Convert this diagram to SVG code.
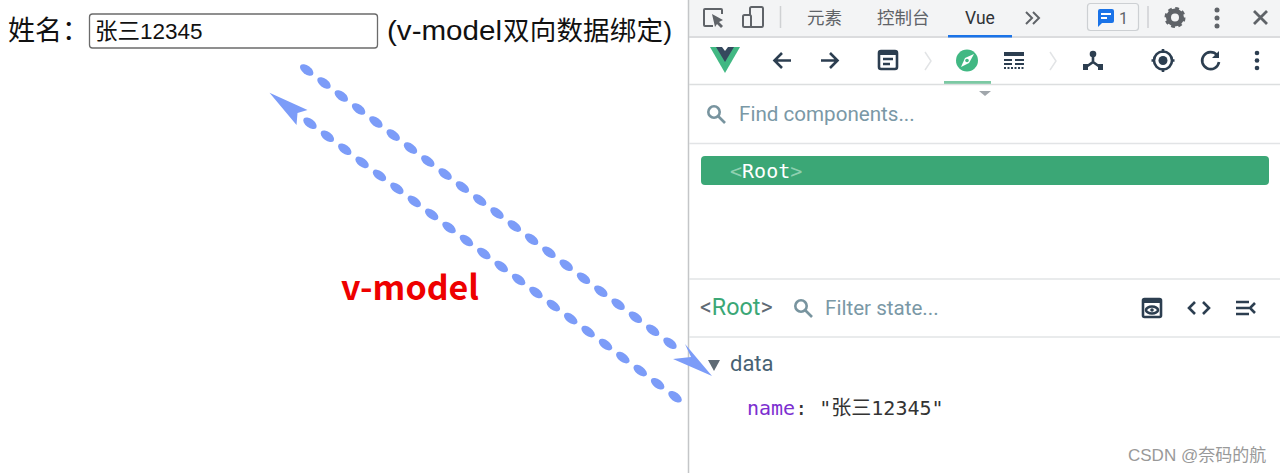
<svg xmlns="http://www.w3.org/2000/svg" xmlns:xlink="http://www.w3.org/1999/xlink" width="1280" height="473" viewBox="0 0 1280 473">
<style>
text{font-family:"Roboto","Noto Sans CJK SC",sans-serif}
.cjk{font-family:"Liberation Sans","Noto Sans CJK SC",sans-serif}
.sep{stroke:#e2e4e6;stroke-width:1.5;fill:none}
.ic{stroke:#2c3e50;fill:none;stroke-width:2.6}
.f{fill:#2c3e50}
.tab{font-size:17.5px;fill:#5f6368}
.ph{font-size:20.6px;fill:#7a98a6}
.srch{stroke:#78949f;fill:none;stroke-width:2.6}
.ah,.dash{fill:#7c9cf8}
.mono{font-family:"DejaVu Sans Mono","Noto Sans CJK SC",monospace}
</style>
<defs><ellipse id="d" class="dash" rx="7.800" ry="4.300" transform="rotate(37)"/></defs>
<rect width="1280" height="473" fill="#fff"/>
<g id="form">
<text class="cjk" x="8" y="40" font-size="27" fill="#111">姓名：</text>
<rect x="89.500" y="14" width="288" height="34" rx="3" fill="#fff" stroke="#6b6b6b" stroke-width="1.300"/>
<text class="cjk" x="95" y="39" font-size="22.500" fill="#111">张三12345</text>
<text class="cjk" x="387" y="40" font-size="27.500" fill="#111" textLength="115" lengthAdjust="spacingAndGlyphs">(v-model</text>
<text class="cjk" x="503" y="40" font-size="26.500" fill="#111" textLength="169" lengthAdjust="spacing">双向数据绑定)</text>
</g>
<g id="devtools">
<rect x="688" y="0" width="592" height="473" fill="#fff"/>
<rect x="688" y="0" width="592" height="36" fill="#f3f4f5"/>
<line x1="688.500" y1="0" x2="688.500" y2="473" stroke="#c4c6c8" stroke-width="1.500"/>
<line x1="689" y1="37" x2="1280" y2="37" stroke="#cfd1d3" stroke-width="1.500"/>
<g id="tabbar">
<path d="M713 26H705Q704 26 704 25V10Q704 9 705 9H721Q722 9 722 10V14" fill="none" stroke="#5f6368" stroke-width="2"/>
<path d="M712 14L723 20L719 22L723 26L721 28L717 24L715 27Z" fill="#5f6368"/>
<rect x="750" y="7" width="13" height="20" rx="1.500" fill="none" stroke="#5f6368" stroke-width="2"/>
<rect x="743" y="15" width="8" height="12" rx="1.500" fill="#f3f4f5" stroke="#5f6368" stroke-width="2"/>
<line x1="780.500" y1="6" x2="780.500" y2="28" stroke="#cfd1d3" stroke-width="1.500"/>
<text class="tab" x="807" y="24">元素</text>
<text class="tab" x="877" y="24">控制台</text>
<text x="965" y="24" font-size="17.500" fill="#303338">Vue</text>
<rect x="948" y="35" width="64" height="2.500" fill="#1a73e8"/>
<path d="M1026 12L1032 18L1026 24M1033 12L1039 18L1033 24" fill="none" stroke="#5f6368" stroke-width="2"/>
<rect x="1087.500" y="3.500" width="51" height="27" rx="3" fill="#f5f6f7" stroke="#cdd0d3" stroke-width="1.200"/>
<path d="M1100 9H1112Q1114 9 1114 11V21Q1114 23 1112 23H1102L1098 27V11Q1098 9 1100 9Z" fill="#1a73e8"/>
<path d="M1101 14H1111M1101 18H1107" stroke="#fff" stroke-width="2"/>
<text x="1119" y="24" font-size="16" fill="#5f6368">1</text>
<line x1="1148" y1="6" x2="1148" y2="28" stroke="#cfd1d3" stroke-width="1.500"/>
<circle cx="1175" cy="17.500" r="6.500" fill="none" stroke="#5f6368" stroke-width="5"/>
<circle cx="1175" cy="17.500" r="8.500" fill="none" stroke="#5f6368" stroke-width="4" stroke-dasharray="3.500 3.170"/>
<g fill="#5f6368"><circle cx="1217" cy="10" r="2.500"/><circle cx="1217" cy="18" r="2.500"/><circle cx="1217" cy="26" r="2.500"/></g>
<path d="M1254 11L1267 24M1267 11L1254 24" stroke="#5f6368" stroke-width="2.800" fill="none"/>
</g>
<g id="toolbar">
<path d="M710 47H740L725 73Z" fill="#41b883"/>
<path d="M716 47H734L725 62Z" fill="#35495e"/>
<path d="M722 47H728L725 51Z" fill="#fff"/>
<path d="M775 60.500H791M782 53L774.500 60.500L782 68" class="ic"/>
<path d="M821 60.500H837M830 53L837.500 60.500L830 68" class="ic"/>
<rect x="879" y="51" width="18" height="18" rx="2" class="ic"/>
<rect x="879" y="51" width="18" height="4" class="f"/>
<path d="M883 59H893M883 64H890" class="ic" stroke-width="2"/>
<path d="M925 52L931 61L925 70" class="sep"/>
<circle cx="967" cy="60.500" r="11" fill="#41b883"/>
<path d="M974 54L969 63L961 67L965 58Z" fill="#fff"/>
<circle cx="967" cy="60.500" r="1.800" fill="#41b883"/>
<rect x="944" y="81" width="47" height="3" fill="#7bc9a3"/>
<path d="M1004 52H1024V56H1004ZM1004 59H1012V61H1004ZM1015 59H1024V61H1015ZM1004 63H1012V65H1004ZM1015 63H1024V65H1015Z" class="f"/>
<path d="M1004 68H1024" stroke="#2c3e50" stroke-width="2" stroke-dasharray="2 1.500"/>
<path d="M1050 52L1056 61L1050 70" class="sep"/>
<circle cx="1093" cy="54" r="3.300" class="f"/>
<rect x="1083" y="64" width="5" height="6" class="f"/><rect x="1098" y="64" width="5" height="6" class="f"/>
<path d="M1093 56V62L1086 67M1093 62L1100 67" class="ic" stroke-width="2.200"/>
<circle cx="1163" cy="60.500" r="9" class="ic"/>
<circle cx="1163" cy="60.500" r="4.500" class="f"/>
<path d="M1163 49V53M1163 68V72M1151.500 60.500H1155M1171 60.500H1174.500" class="ic"/>
<path d="M1217 55A8.500 8.500 0 1 0 1219 62" class="ic"/>
<path d="M1219 51V58H1212Z" class="f"/>
<g class="f"><circle cx="1257" cy="53" r="2.300"/><circle cx="1257" cy="60.500" r="2.300"/><circle cx="1257" cy="68" r="2.300"/></g>
<line x1="689" y1="84.500" x2="1280" y2="84.500" stroke="#dcdedf" stroke-width="1.500"/>
<path d="M979 91H991L985 96Z" fill="#a0a6ab"/>
</g>
<g id="search-components">
<circle cx="714" cy="112" r="5.700" class="srch"/><path d="M718 116L725 123" class="srch"/>
<text class="ph" x="739" y="121">Find components...</text>
<line x1="689" y1="143.500" x2="1280" y2="143.500" class="sep"/>
</g>
<g id="root-row">
<rect x="701" y="156" width="568" height="29" rx="4" fill="#3ba776"/>
<text class="mono" x="730" y="178" font-size="20"><tspan fill="#8fd0b0">&lt;</tspan><tspan fill="#fff">Root</tspan><tspan fill="#8fd0b0">&gt;</tspan></text>
</g>
<g id="state-header">
<line x1="689" y1="279" x2="1280" y2="279" class="sep"/>
<text x="700" y="315" font-size="23.300" fill="#5f6b75">&lt;<tspan fill="#3ba776">Root</tspan>&gt;</text>
<circle cx="801" cy="306" r="5.700" class="srch"/><path d="M805 310L812 317" class="srch"/>
<text class="ph" x="825" y="315">Filter state...</text>
<rect x="1143" y="299" width="18" height="18" rx="1.500" class="ic"/>
<rect x="1143" y="299" width="18" height="4" class="f"/>
<ellipse cx="1152" cy="310" rx="6" ry="3.500" class="ic" stroke-width="1.800"/><circle cx="1152" cy="310" r="1.800" class="f"/>
<path d="M1195 302L1189 308L1195 314M1203 302L1209 308L1203 314" class="ic"/>
<path d="M1236 302H1249M1236 308H1249M1236 314H1249" class="ic" stroke-width="2.400"/>
<path d="M1255 303L1250 308L1255 313" class="ic" stroke-width="2.200"/>
<line x1="689" y1="337" x2="1280" y2="337" class="sep"/>
</g>
<g id="state-data">
<path d="M708 360H720L714 371Z" fill="#5f6b75"/>
<text x="730" y="371" font-size="22" fill="#486273">data</text>
<text class="mono" x="747" y="415" font-size="20" fill="#333"><tspan fill="#7c2fd0">name</tspan>: "张三12345"</text>
</g>
</g>
<g id="connectors">
<g id="dashes-forward">
<use xlink:href="#d" x="306.700" y="70"/><use xlink:href="#d" x="324" y="83"/><use xlink:href="#d" x="341.300" y="96"/><use xlink:href="#d" x="358.600" y="109"/><use xlink:href="#d" x="375.900" y="122"/><use xlink:href="#d" x="393.200" y="135.100"/><use xlink:href="#d" x="410.500" y="148.100"/><use xlink:href="#d" x="427.800" y="161.100"/><use xlink:href="#d" x="445.100" y="174.100"/><use xlink:href="#d" x="462.400" y="187.100"/><use xlink:href="#d" x="479.700" y="200.100"/><use xlink:href="#d" x="497" y="213.100"/><use xlink:href="#d" x="514.300" y="226.100"/><use xlink:href="#d" x="531.600" y="239.200"/><use xlink:href="#d" x="548.900" y="252.200"/><use xlink:href="#d" x="566.200" y="265.200"/><use xlink:href="#d" x="583.500" y="278.200"/><use xlink:href="#d" x="600.800" y="291.200"/><use xlink:href="#d" x="618.100" y="304.200"/><use xlink:href="#d" x="635.400" y="317.200"/><use xlink:href="#d" x="652.700" y="330.300"/><use xlink:href="#d" x="670" y="343.300"/>
</g>
<path class="ah" d="M712 376L673 359L691 357L685 344Z"/>
<g id="dashes-back">
<use xlink:href="#d" x="310" y="123.300"/><use xlink:href="#d" x="327.400" y="136.300"/><use xlink:href="#d" x="344.800" y="149.300"/><use xlink:href="#d" x="362.100" y="162.400"/><use xlink:href="#d" x="379.500" y="175.400"/><use xlink:href="#d" x="396.900" y="188.400"/><use xlink:href="#d" x="414.300" y="201.400"/><use xlink:href="#d" x="431.700" y="214.400"/><use xlink:href="#d" x="449" y="227.500"/><use xlink:href="#d" x="466.400" y="240.500"/><use xlink:href="#d" x="483.800" y="253.500"/><use xlink:href="#d" x="501.200" y="266.500"/><use xlink:href="#d" x="518.600" y="279.500"/><use xlink:href="#d" x="535.900" y="292.500"/><use xlink:href="#d" x="553.300" y="305.600"/><use xlink:href="#d" x="570.700" y="318.600"/><use xlink:href="#d" x="588.100" y="331.600"/><use xlink:href="#d" x="605.500" y="344.600"/><use xlink:href="#d" x="622.800" y="357.600"/><use xlink:href="#d" x="640.200" y="370.600"/><use xlink:href="#d" x="657.600" y="383.700"/><use xlink:href="#d" x="675" y="396.700"/>
</g>
<path class="ah" d="M269.500 92.700L307.500 110L297.500 113L296.500 125Z"/>
</g>
<text id="label" x="341" y="300" font-size="34" font-weight="bold" fill="#ee0000" style="font-family:'Noto Sans CJK SC','Noto Sans',sans-serif">v-model</text>
<text id="watermark" x="1128" y="461" font-size="17" fill="#999" class="cjk">CSDN @奈码的航</text>
</svg>
